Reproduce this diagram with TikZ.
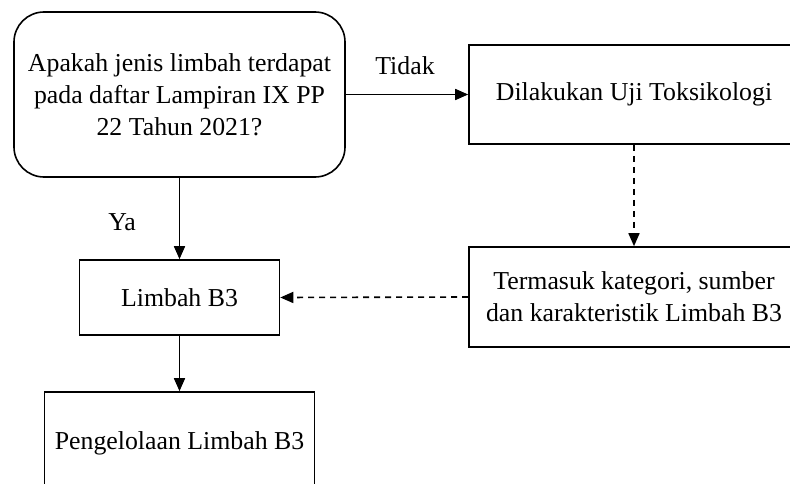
\documentclass[tikz,border=0pt]{standalone}
\usepackage{fontspec}
\setmainfont{Liberation Serif}
\usetikzlibrary{arrows.meta}
\begin{document}
\begin{tikzpicture}[x=1pt,y=-1pt,
  every node/.style={font=\fontsize{25.8}{32}\selectfont, inner sep=0pt, align=center},
  box/.style={draw, line width=1.6pt},
  conn/.style={line width=1.6pt, -{Triangle[length=13pt,width=11pt]}},
  dconn/.style={conn, dash pattern=on 6pt off 5pt}]
\useasboundingbox (0,0) rectangle (790,484);
\clip (0,0) rectangle (790,484);
\node[box, rounded corners=30pt, minimum width=331pt, minimum height=165pt] (dec) at (179.5,94.5)
  {Apakah jenis limbah terdapat\\pada daftar Lampiran IX PP\\22 Tahun 2021?};
\node[box, minimum width=330pt, minimum height=99pt] (uji) at (634,94.5) {Dilakukan Uji Toksikologi};
\node[box, minimum width=330pt, minimum height=100pt] (term) at (634,297) {Termasuk kategori, sumber\\dan karakteristik Limbah B3};
\node[box, minimum width=200pt, minimum height=75pt] (lb3) at (179.5,297.5) {Limbah B3};
\node[box, minimum width=270pt, minimum height=102pt] (peng) at (179.5,443) {Pengelolaan Limbah B3};
\draw[conn] (dec.east) -- (uji.west);
\node (tidak) at (405,66) {Tidak};
\draw[conn] (dec.south) -- (lb3.north);
\node (ya) at (122,222) {Ya};
\draw[dconn] (uji.south) -- (term.north);
\draw[dconn] (term.west) -- (lb3.east);
\draw[conn] (lb3.south) -- (peng.north);
\end{tikzpicture}
\end{document}
